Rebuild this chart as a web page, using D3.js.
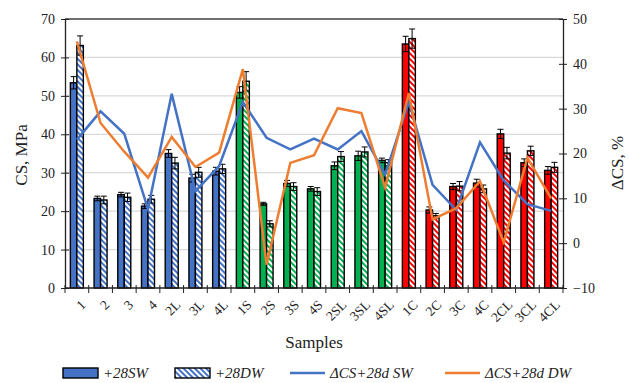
<!DOCTYPE html>
<html>

<head>
  <meta charset="utf-8">
  <script src="https://d3js.org/d3.v7.min.js"></script>
  <title>CS and dCS by sample</title>
  <style>
    body {
      margin: 0px;
      background: white;
    }
  </style>
</head>

<body>
  <svg width="629" height="383"></svg>
  <script>
    const samples = ['1', '2', '3', '4', '2L', '3L', '4L', '1S', '2S', '3S', '4S', '2SL', '3SL', '4SL',
      '1C', '2C', '3C', '4C', '2CL', '3CL', '4CL'];
    const groupOf = ['b', 'b', 'b', 'b', 'b', 'b', 'b', 'g', 'g', 'g', 'g', 'g', 'g', 'g',
      'r', 'r', 'r', 'r', 'r', 'r', 'r'];
    const cs28SW = [53.4, 23.3, 24.3, 21.3, 35.0, 28.6, 30.4, 50.9, 21.9, 27.2, 25.8, 31.8, 34.4, 33.2,
      63.5, 20.3, 26.4, 27.3, 40.1, 32.6, 30.6];
    const cs28DW = [63.1, 22.9, 23.6, 23.1, 32.5, 30.1, 31.0, 53.8, 16.7, 26.4, 25.1, 34.2, 35.4, 32.6,
      64.9, 18.8, 26.5, 25.8, 35.1, 35.7, 31.4];
    const errSW = [1.6, 0.6, 0.6, 0.6, 1.0, 1.0, 1.0, 1.5, 0.4, 0.8, 0.6, 1.0, 1.2, 0.6,
      2.0, 0.8, 0.8, 1.0, 1.2, 1.0, 1.0];
    const errDW = [2.5, 1.0, 1.1, 1.0, 1.5, 1.3, 1.2, 2.5, 0.8, 1.0, 1.0, 1.3, 1.3, 0.8,
      2.5, 0.6, 1.2, 1.0, 1.5, 1.2, 1.3];
    const dCS_SW = [23.1, 29.4, 24.4, 7.6, 33.3, 11.6, 17.2, 31.5, 23.5, 20.9, 23.3, 20.9, 25.0, 15.3,
      31.5, 13.0, 7.4, 22.5, 14.0, 8.7, 7.2];
    const dCS_DW = [45.0, 26.8, 20.4, 14.6, 23.7, 17.0, 20.2, 38.8, -4.8, 17.9, 19.6, 30.1, 29.0, 12.4,
      33.5, 5.3, 7.8, 13.8, 0.2, 19.0, 10.0];
    const leftTicks = [0, 10, 20, 30, 40, 50, 60, 70];
    const rightTicks = [-10, 0, 10, 20, 30, 40, 50];

    const fillColors = { b: '#4472C4', g: '#00B050', r: '#FF0000' };
    const lineBlue = '#4472C4';
    const lineOrange = '#ED7D31';
    const serif = "'Liberation Serif', 'Times New Roman', serif";

    const margin = { left: 65, right: 66, top: 19, bottom: 95 };
    const svg = d3.select('svg');
    const width = +svg.attr('width');
    const height = +svg.attr('height');
    const innerWidth = width - margin.left - margin.right;
    const innerHeight = height - margin.top - margin.bottom;

    // hatch patterns for the DW bars
    const defs = svg.append('defs');
    Object.keys(fillColors).forEach(k => {
      const p = defs.append('pattern')
        .attr('id', 'hatch-' + k)
        .attr('patternUnits', 'userSpaceOnUse')
        .attr('width', 4)
        .attr('height', 4)
        .attr('patternTransform', 'rotate(-45)');
      p.append('rect').attr('width', 4).attr('height', 4).attr('fill', 'white');
      p.append('line')
        .attr('x1', 1).attr('y1', 0).attr('x2', 1).attr('y2', 4)
        .attr('stroke', fillColors[k])
        .attr('stroke-width', 2);
    });

    const g = svg.append('g')
      .attr('transform', `translate(${margin.left},${margin.top})`);

    const xScale = d3.scaleBand()
      .domain(samples)
      .range([0, innerWidth]);
    const barScale = d3.scaleBand()
      .domain(['sw', 'dw'])
      .range([0, 13]);
    const yScale = d3.scaleLinear()
      .domain([0, 70])
      .range([innerHeight, 0]);
    const y2Scale = d3.scaleLinear()
      .domain([-10, 50])
      .range([innerHeight, 0]);

    // gridlines
    g.selectAll('.grid').data(leftTicks.filter(t => t > 0 && t < 70))
      .enter().append('line')
      .attr('x1', 0).attr('x2', innerWidth)
      .attr('y1', d => yScale(d)).attr('y2', d => yScale(d))
      .attr('stroke', '#d9d9d9')
      .attr('stroke-width', 1.2);
    g.append('line')
      .attr('x1', 0).attr('x2', innerWidth)
      .attr('y1', 0).attr('y2', 0)
      .attr('stroke', '#404040')
      .attr('stroke-width', 1.3);

    // bars
    const rows = samples.map((s, i) => ({
      s, grp: groupOf[i], sw: cs28SW[i], dw: cs28DW[i], esw: errSW[i], edw: errDW[i]
    }));
    const groupG = g.selectAll('.grp').data(rows)
      .enter().append('g')
      .attr('transform', d => `translate(${xScale(d.s) + xScale.bandwidth() / 2 - 6.5},0)`);

    groupG.append('rect')
      .attr('x', barScale('sw'))
      .attr('y', d => yScale(d.sw))
      .attr('width', barScale.bandwidth())
      .attr('height', d => innerHeight - yScale(d.sw))
      .attr('fill', d => fillColors[d.grp])
      .attr('stroke', 'black')
      .attr('stroke-width', 1.4);
    groupG.append('rect')
      .attr('x', barScale('dw'))
      .attr('y', d => yScale(d.dw))
      .attr('width', barScale.bandwidth())
      .attr('height', d => innerHeight - yScale(d.dw))
      .attr('fill', d => `url(#hatch-${d.grp})`)
      .attr('stroke', 'black')
      .attr('stroke-width', 1.4);

    // error bars
    const errBar = (sel, key, ekey) => {
      const cx = barScale(key) + barScale.bandwidth() / 2;
      sel.append('line')
        .attr('x1', cx).attr('x2', cx)
        .attr('y1', d => yScale(d[key] - d[ekey]))
        .attr('y2', d => yScale(d[key] + d[ekey]))
        .attr('stroke', 'black').attr('stroke-width', 1);
      [-1, 1].forEach(sgn => {
        sel.append('line')
          .attr('x1', cx - 3).attr('x2', cx + 3)
          .attr('y1', d => yScale(d[key] + sgn * d[ekey]))
          .attr('y2', d => yScale(d[key] + sgn * d[ekey]))
          .attr('stroke', 'black').attr('stroke-width', 1);
      });
    };
    errBar(groupG, 'sw', 'esw');
    errBar(groupG, 'dw', 'edw');

    // delta lines
    const line = vals => d3.line()
      .x((d, i) => xScale(samples[i]) + xScale.bandwidth() / 2)
      .y(d => y2Scale(d))(vals);
    g.append('path')
      .attr('d', line(dCS_SW))
      .attr('fill', 'none')
      .attr('stroke', lineBlue)
      .attr('stroke-width', 2.5);
    g.append('path')
      .attr('d', line(dCS_DW))
      .attr('fill', 'none')
      .attr('stroke', lineOrange)
      .attr('stroke-width', 2.5);

    // axes
    const yAxis = d3.axisLeft(yScale).tickValues(leftTicks).tickSizeInner(4).tickSizeOuter(0).tickPadding(6);
    const y2Axis = d3.axisRight(y2Scale).tickValues(rightTicks).tickSizeInner(4).tickSizeOuter(0).tickPadding(6);
    const yAxisG = g.append('g').call(yAxis);
    const y2AxisG = g.append('g').attr('transform', `translate(${innerWidth},0)`).call(y2Axis);
    [yAxisG, y2AxisG].forEach(a => {
      a.attr('font-family', serif).attr('font-size', 14);
      a.select('.domain').attr('stroke', '#222').attr('stroke-width', 1.3);
      a.selectAll('.tick line').attr('stroke', '#222').attr('x1', a === yAxisG ? 4 : -4);
      a.selectAll('.tick text').attr('fill', '#222');
    });

    const xAxisG = g.append('g')
      .attr('transform', `translate(0,${innerHeight})`)
      .attr('font-family', serif)
      .attr('font-size', 13.5);
    xAxisG.append('line')
      .attr('x1', 0).attr('x2', innerWidth)
      .attr('stroke', '#222').attr('stroke-width', 1.3);
    xAxisG.selectAll('.xtick').data(d3.range(samples.length + 1))
      .enter().append('line')
      .attr('x1', i => i * xScale.step()).attr('x2', i => i * xScale.step())
      .attr('y1', -3).attr('y2', 5)
      .attr('stroke', '#222');
    xAxisG.selectAll('.xlabel').data(samples)
      .enter().append('text')
      .attr('fill', '#222')
      .attr('text-anchor', 'end')
      .attr('transform', d => `translate(${xScale(d) + xScale.bandwidth() / 2 + 3},${11}) rotate(-45)`)
      .attr('dy', '0.7em')
      .text(d => d);

    // axis titles
    const titles = svg.append('g')
      .attr('font-family', serif)
      .attr('font-size', 17)
      .attr('fill', '#222')
      .attr('text-anchor', 'middle');
    titles.append('text')
      .attr('transform', 'translate(27,155) rotate(-90)')
      .text('CS,  MPa');
    titles.append('text')
      .attr('transform', 'translate(623,163) rotate(-90)')
      .text('ΔCS, %');
    titles.append('text')
      .attr('x', 314)
      .attr('y', 348)
      .text('Samples');

    // legend
    const legendItems = [
      { label: '+28SW', type: 'bar', x: 63 },
      { label: '+28DW', type: 'hatch', x: 175 },
      { label: 'ΔCS+28d SW', type: 'line', color: lineBlue, x: 290 },
      { label: 'ΔCS+28d DW', type: 'line', color: lineOrange, x: 445 }
    ];
    const legendG = svg.append('g')
      .attr('transform', 'translate(0,373)')
      .attr('font-family', serif)
      .attr('font-size', 15)
      .attr('font-style', 'italic')
      .attr('fill', '#222');
    legendItems.forEach(it => {
      if (it.type === 'line') {
        legendG.append('line')
          .attr('x1', it.x).attr('x2', it.x + 35)
          .attr('stroke', it.color).attr('stroke-width', 2.5);
      } else {
        legendG.append('rect')
          .attr('x', it.x).attr('y', -5)
          .attr('width', 35).attr('height', 10)
          .attr('fill', it.type === 'bar' ? fillColors.b : 'url(#hatch-b)')
          .attr('stroke', 'black').attr('stroke-width', 1.4);
      }
      legendG.append('text')
        .attr('x', it.x + 40)
        .attr('dy', '0.35em')
        .text(it.label);
    });
  </script>
</body>

</html>
